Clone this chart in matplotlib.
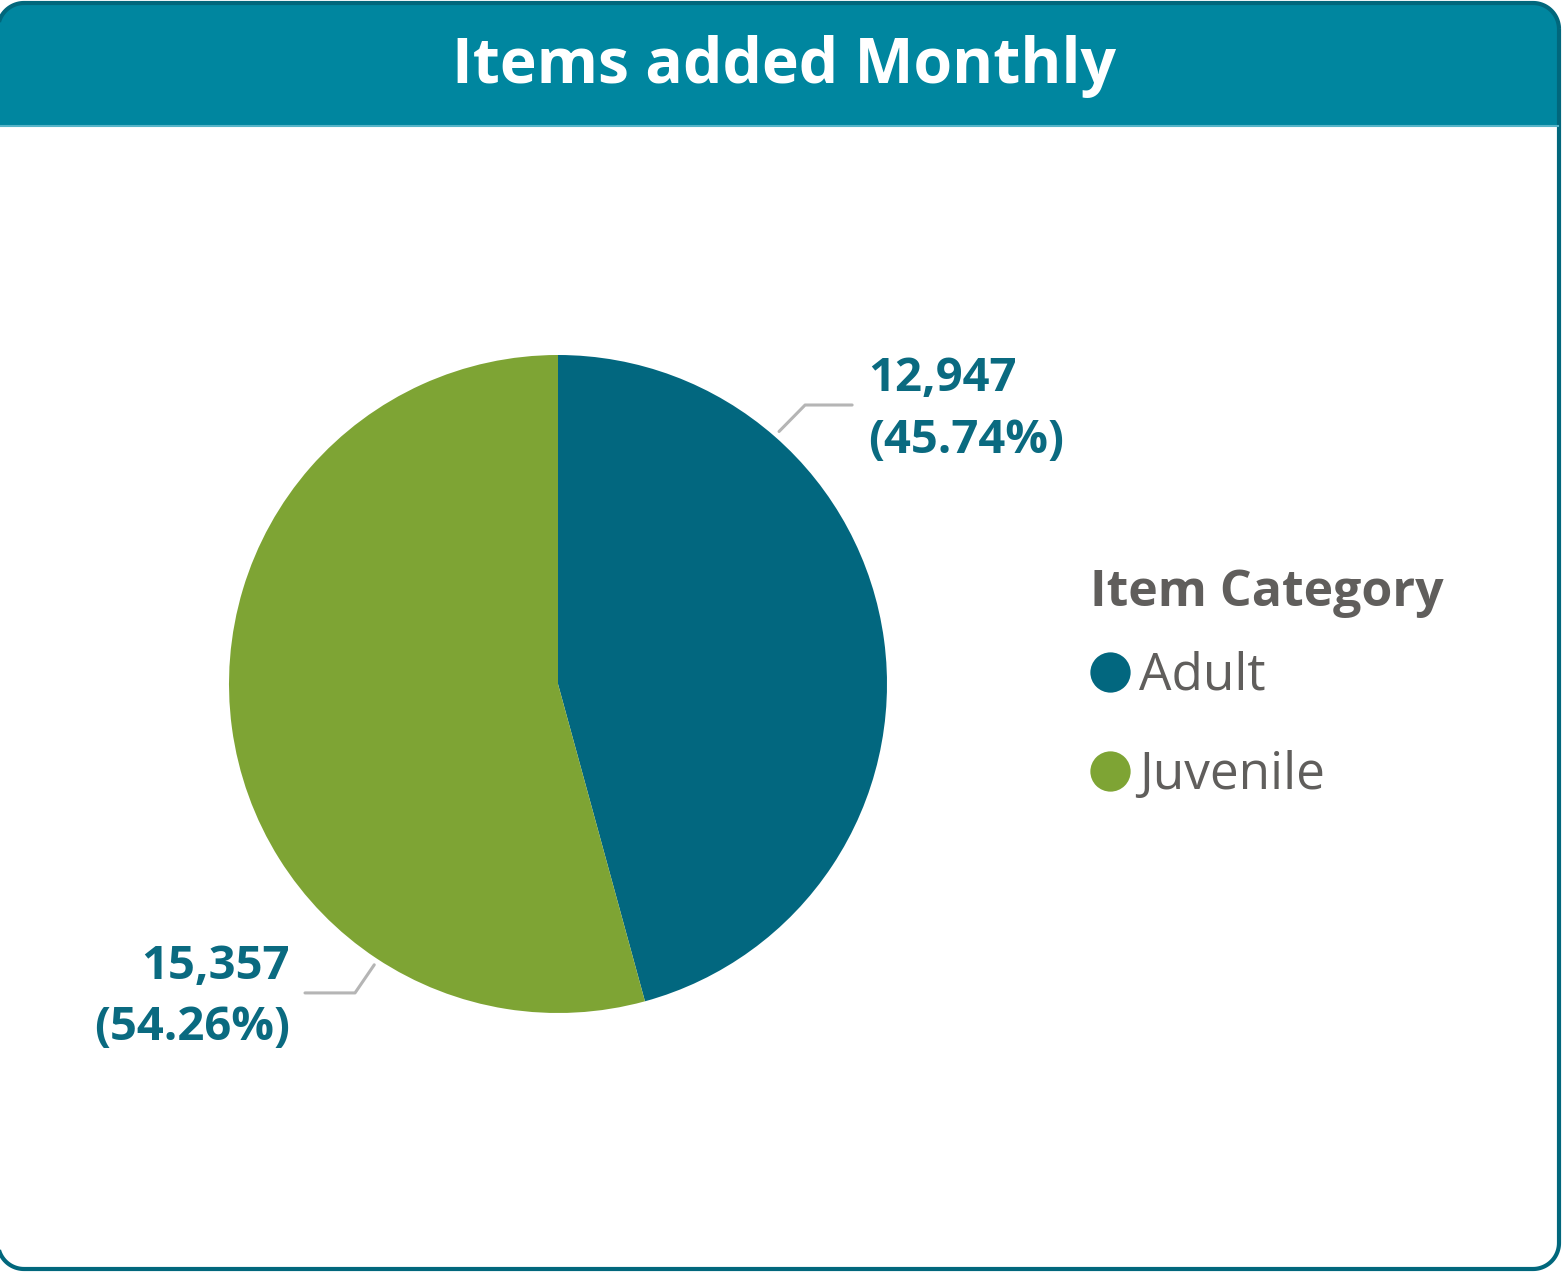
import matplotlib.pyplot as plt
from matplotlib.patches import Polygon
from matplotlib.lines import Line2D
import numpy as np

plt.rcParams['font.family'] = ['Open Sans', 'DejaVu Sans']

title = 'Items added Monthly'
categories = ['Adult', 'Juvenile']
counts = [12947, 15357]
colors = ['#02677F', '#7EA434']
legend_title = 'Item Category'

W, H = 1563, 1272


def rounded_rect(x0, y0, x1, y1, rad, n=24):
    # polygon outline of a rectangle with rounded corners
    pts = []
    for (cx, cy, a0) in [(x1 - rad, y1 - rad, 0), (x0 + rad, y1 - rad, 90),
                         (x0 + rad, y0 + rad, 180), (x1 - rad, y0 + rad, 270)]:
        t = np.deg2rad(np.linspace(a0, a0 + 90, n))
        pts += list(zip(cx + rad * np.cos(t), cy + rad * np.sin(t)))
    return np.array(pts)


fig = plt.figure(figsize=(W / 100, H / 100), dpi=100)

# card background, header band and border (pixel coordinates, y up)
bg = fig.add_axes([0, 0, 1, 1])
bg.set_xlim(0, W)
bg.set_ylim(0, H)
bg.axis('off')

outline = rounded_rect(-2, 3, 1559, 1269, 26)
bg.add_patch(Polygon(outline, closed=True, facecolor='white', edgecolor='none'))
head = outline.copy()
head[:, 1] = np.maximum(head[:, 1], H - 125)
bg.add_patch(Polygon(head, closed=True, facecolor='#00869F', edgecolor='none'))
bg.plot([0, 1558], [H - 125.5, H - 125.5], color='#56B4C8', lw=1.5)
bg.add_patch(Polygon(outline, closed=True, facecolor='none', edgecolor='#01677C', lw=3))
bg.text(784, H - 66, title, color='white', fontsize=45, fontweight='bold',
        ha='center', va='center')

# pie axes: center (558, 684), radius 329 px
cx, cy, r = 558, 684, 329
ax = fig.add_axes([(cx - r) / W, (H - cy - r) / H, 2 * r / W, 2 * r / H])
wedges, _ = ax.pie(counts, colors=colors, startangle=90, counterclock=False,
                   radius=1, wedgeprops=dict(linewidth=0))
ax.set_xlim(-1, 1)
ax.set_ylim(-1, 1)
ax.axis('off')

total = sum(counts)
label_color = '#0A6A80'
leader_color = '#B5B5B5'
# anchor angle on the rim, elbow, end of leader, text position, alignment
leaders = [
    (48.8, (0.751, 0.848), (0.894, 0.848), (0.942, 0.834), 'left'),
    (236.8, (-0.617, -0.939), (-0.769, -0.939), (-0.815, -0.951), 'right'),
]
for cnt, (ang, elbow, end, tpos, ha) in zip(counts, leaders):
    a = np.deg2rad(ang)
    start = (1.02 * np.cos(a), 1.02 * np.sin(a))
    ax.plot([start[0], elbow[0], end[0]], [start[1], elbow[1], end[1]],
            color=leader_color, lw=2.2, clip_on=False, solid_capstyle='round')
    ax.text(tpos[0], tpos[1], f'{cnt:,}\n({cnt / total * 100:.2f}%)',
            color=label_color, fontsize=34, fontweight='bold', ha=ha,
            va='center', multialignment=ha, linespacing=1.4, clip_on=False)

# legend
fig.text(1090 / W, 1 - 593 / H, legend_title, color='#605E5C', fontsize=36,
         fontweight='bold', ha='left', va='center')
handles = [Line2D([], [], marker='o', linestyle='none', markersize=29,
                  markerfacecolor=c, markeredgecolor='none') for c in colors]
leg = fig.legend(handles, categories, loc='center left',
                 bbox_to_anchor=(1077 / W, 1 - 726 / H), frameon=False,
                 fontsize=37, handletextpad=0.1, labelspacing=0.95,
                 handlelength=0.9, borderaxespad=0, borderpad=0.2)
for t in leg.get_texts():
    t.set_color('#605E5C')

fig.savefig('out.png', dpi=100)
